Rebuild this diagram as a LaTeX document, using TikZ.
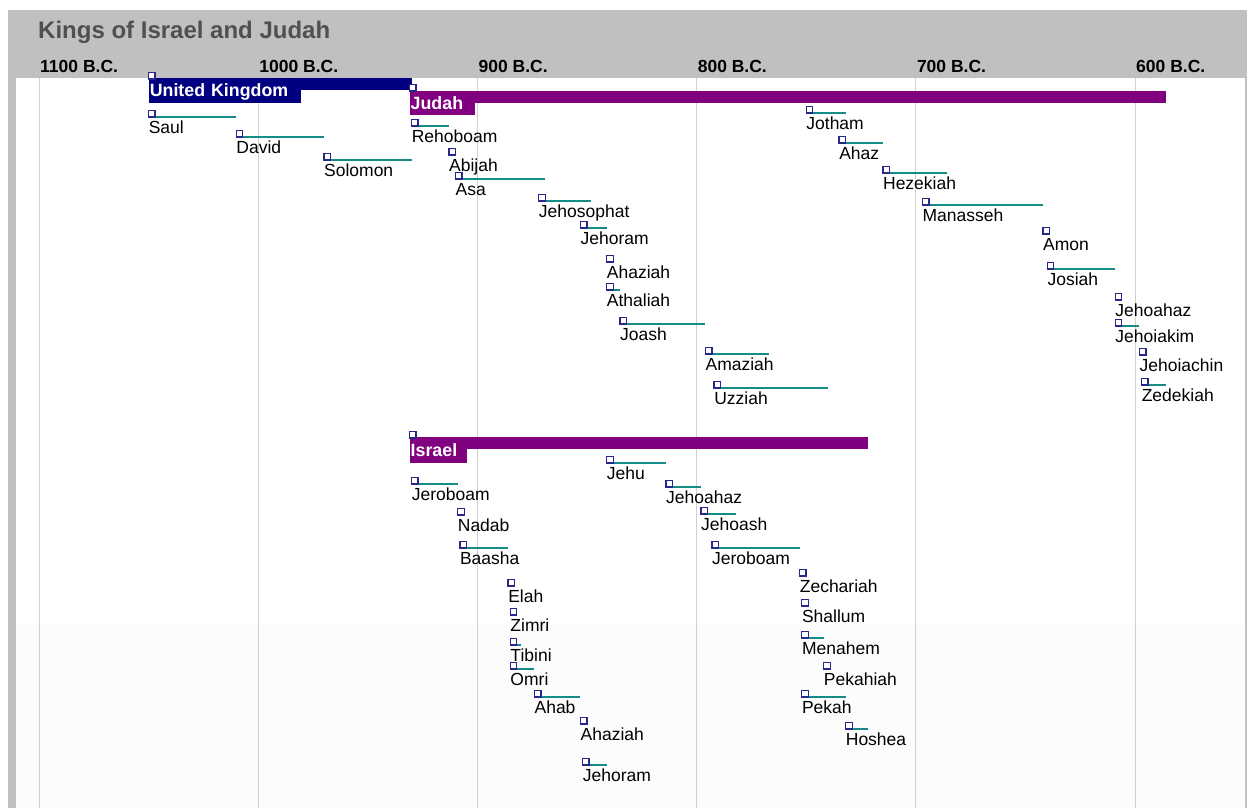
\documentclass[tikz,border=0pt]{standalone}
\usepackage{fontspec}
\setmainfont{Liberation Sans}
\usepackage{tikz}
\usetikzlibrary{positioning}
\definecolor{headgray}{RGB}{192,192,192}
\definecolor{titlegray}{RGB}{80,80,80}
\definecolor{gridgray}{RGB}{208,208,208}
\definecolor{lowpanel}{RGB}{252,252,252}
\definecolor{ukblue}{RGB}{0,0,128}
\definecolor{kingdompurple}{RGB}{128,0,128}
\definecolor{reignteal}{RGB}{20,140,135}
\definecolor{boxblue}{RGB}{40,40,140}

\begin{document}
\begin{tikzpicture}[x=1pt,y=-1pt,
    startbox/.style={draw=boxblue, fill=white, line width=1.3pt, minimum size=6.5pt,
      inner sep=0pt, outer sep=0pt, anchor=south west},
    reign/.style={draw=reignteal, line width=2.4pt},
    kname/.style={anchor=base west, inner sep=0pt, font=\fontsize{17.5}{20}\selectfont},
    yearline/.style={draw=gridgray, line width=1pt},
    yearlab/.style={anchor=base west, inner sep=0pt, font=\bfseries\fontsize{17.5}{20}\selectfont},
    bartag/.style={anchor=north west, inner xsep=1pt, inner ysep=0pt, text=white,
      minimum height=25pt, text height=12.5pt, text depth=0pt, align=left,
      font=\bfseries\fontsize{17.8}{20}\selectfont}]
    \useasboundingbox (0,0) rectangle (1247,808);
    % Frame
    \fill[white] (0,0) rectangle (1247,808);
    \fill[headgray] (8,10) rectangle (1247,78);
    \fill[headgray] (8,10) rectangle (16,808);
    \fill[headgray] (1245,10) rectangle (1247,808);
    \fill[lowpanel] (16,625) rectangle (1245,808);
    \node[anchor=base west, inner sep=0pt, text=titlegray,
      font=\bfseries\fontsize{24}{27}\selectfont] (title) at (38,38) {Kings of Israel and Judah};
    % Year lines
    \foreach \yr [count=\i] in {1100,1000,...,600} {
        \draw[yearline] ({39+(1100-\yr)*2.192},78) -- ++(0,730);
        \node[yearlab] (yr\i) at ({40+(1100-\yr)*2.192},72) {\yr{} B.C.};
    }
    % Kingdom bars
    \fill[ukblue] (148.6,78) rectangle (411.6,90);
    \node[bartag, fill=ukblue, text width=150pt] (uk) at (148.6,78) {United Kingdom};
    \node[startbox] (ukstart) at (148.6,79) {};
    \fill[kingdompurple] (411.6,91) rectangle (1165.7,103);
    \node[bartag, fill=kingdompurple, text width=63pt, minimum height=24pt] (judah) at (409.5,91) {Judah};
    \node[startbox] (judahstart) at (409.5,91) {};
    \fill[kingdompurple] (411.6,437) rectangle (867.6,449);
    \node[bartag, fill=kingdompurple, text width=55pt, minimum height=26pt] (israel) at (409.5,437) {Israel};
    \node[startbox] (israelstart) at (409.5,438) {};
    % United Kingdom
    \foreach \nm/\s/\e/\y [count=\i] in {Saul/1050/1010/117, David/1010/970/137,
        Solomon/970/930/160} {
        \coordinate (ukb\i) at ({39+(1100-\s)*2.192},\y);
        \coordinate (uke\i) at ({39+(1100-\e)*2.192},\y);
        \draw[reign] (ukb\i) -- (uke\i);
        \node[startbox] (uk\i) at (ukb\i) {};
        \node[kname] (ukn\i) at ([yshift=-16.5pt]uk\i.south west) {\nm};
    }
    % Judah
    \foreach \nm/\s/\e/\y [count=\i] in {Rehoboam/930/913/126, Abijah/913/910/155,
        Asa/910/869/179, Jehosophat/872/848/201, Jehoram/853/841/228,
        Ahaziah/841/841/262, Athaliah/841/835/290, Joash/835/796/324,
        Amaziah/796/767/354, Uzziah/792/740/388, Jotham/750/732/113,
        Ahaz/735/715/143, Hezekiah/715/686/173, Manasseh/697/642/205,
        Amon/642/640/234, Josiah/640/609/269, Jehoahaz/609/609/300,
        Jehoiakim/609/598/326, Jehoiachin/598/597/355, Zedekiah/597/586/385} {
        \coordinate (jub\i) at ({39+(1100-\s)*2.192},\y);
        \coordinate (jue\i) at ({39+(1100-\e)*2.192},\y);
        \draw[reign] (jub\i) -- (jue\i);
        \node[startbox] (ju\i) at (jub\i) {};
        \node[kname] (jun\i) at ([yshift=-16.5pt]ju\i.south west) {\nm};
    }
    % Israel
    \foreach \nm/\s/\e/\y [count=\i] in {Jeroboam/930/909/484, Nadab/909/908/515,
        Baasha/908/886/548, Elah/886/885/586, Zimri/885/885/615,
        Tibini/885/880/645, Omri/885/874/669, Ahab/874/853/697,
        Ahaziah/853/852/724, Jehoram/852/841/765, Jehu/841/814/463,
        Jehoahaz/814/798/487, Jehoash/798/782/514, Jeroboam/793/753/548,
        Zechariah/753/753/576, Shallum/752/752/606, Menahem/752/742/638,
        Pekahiah/742/740/669, Pekah/752/732/697, Hoshea/732/722/729} {
        \coordinate (isb\i) at ({39+(1100-\s)*2.192},\y);
        \coordinate (ise\i) at ({39+(1100-\e)*2.192},\y);
        \draw[reign] (isb\i) -- (ise\i);
        \node[startbox] (is\i) at (isb\i) {};
        \node[kname] (isn\i) at ([yshift=-16.5pt]is\i.south west) {\nm};
    }
\end{tikzpicture}
\end{document}
